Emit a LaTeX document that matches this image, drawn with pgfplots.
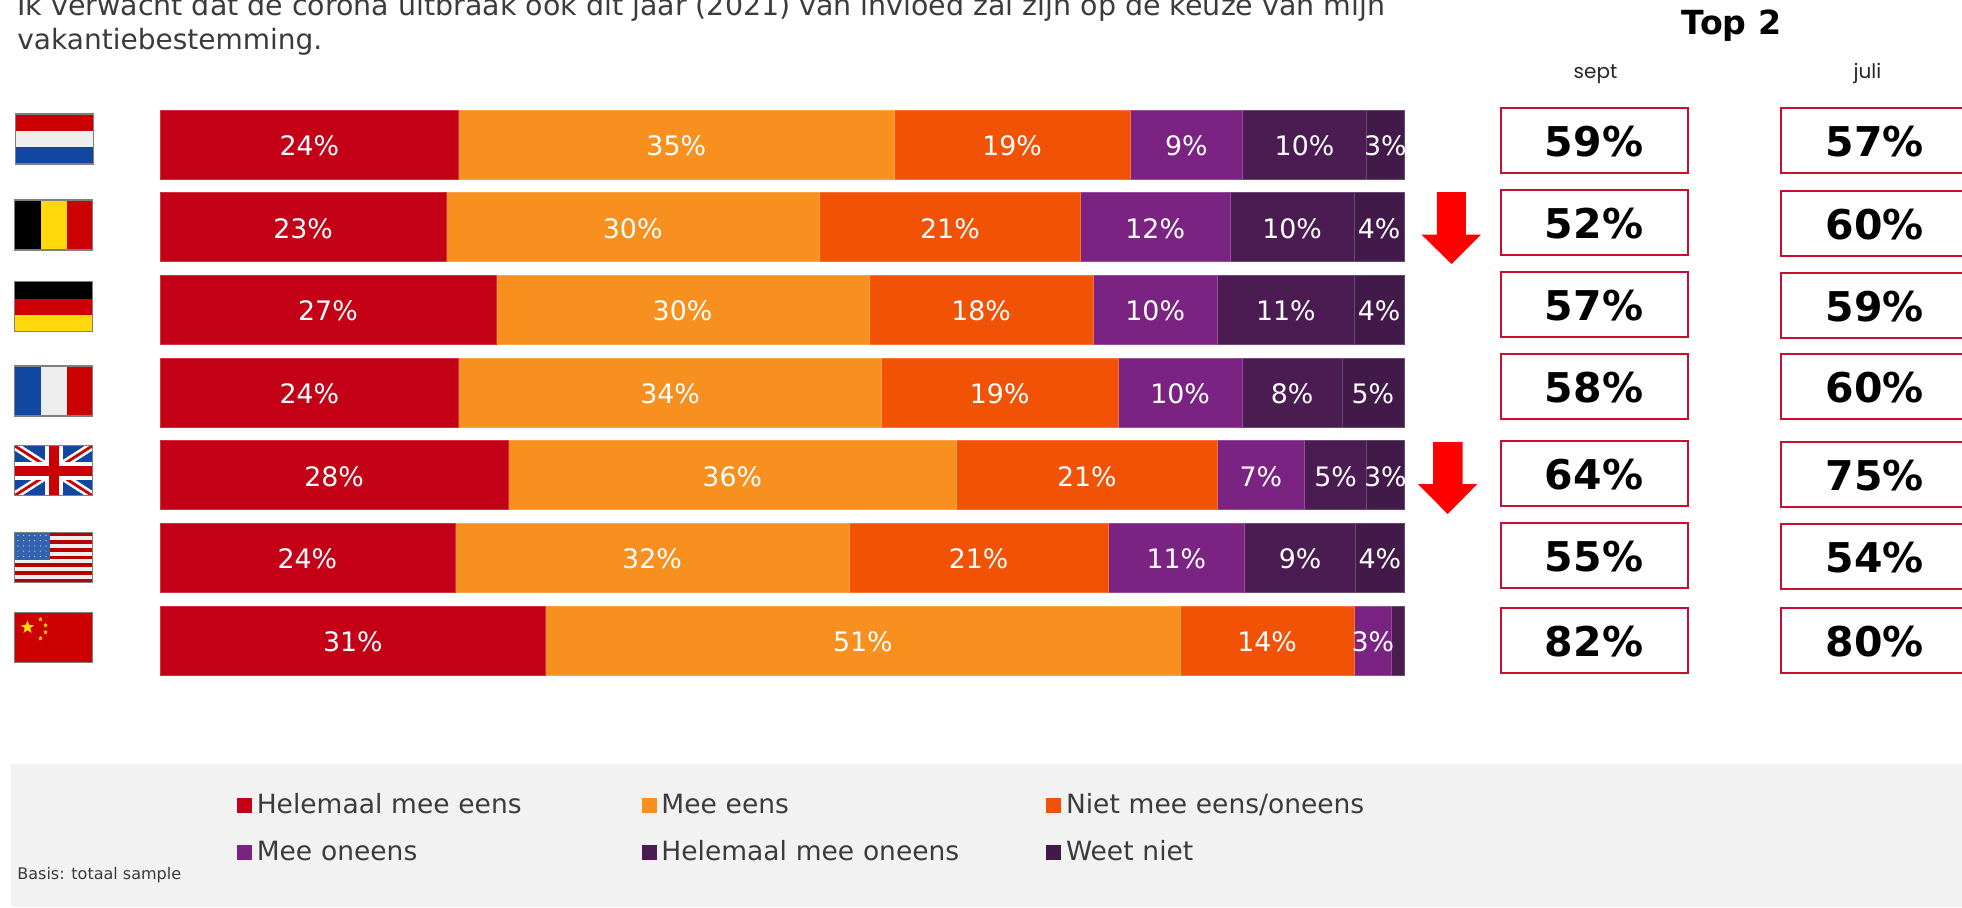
\documentclass[border=0pt]{standalone}
\usepackage{pgfplots}
\usepackage{pgfplotstable}
\usepackage{fontspec}
\pgfplotsset{compat=1.18}
\usetikzlibrary{shapes.geometric}
\setmainfont{DejaVu Sans}
\newfontfamily\gothic{Poppins}
\definecolor{c1}{HTML}{C40016}
\definecolor{c2}{HTML}{F7901E}
\definecolor{c3}{HTML}{F25206}
\definecolor{c4}{HTML}{7A2382}
\definecolor{c5}{HTML}{4A1C52}
\definecolor{c6}{HTML}{421A4A}
\definecolor{txt}{HTML}{3B3B3B}
\definecolor{panel}{HTML}{F2F2F2}
\definecolor{boxred}{HTML}{C8102E}
\definecolor{fred}{HTML}{CC0000}
\definecolor{fblue}{HTML}{0F47A1}
\definecolor{fwhite}{HTML}{EEEEEE}
\definecolor{fyellow}{HTML}{FFD90C}

\pgfplotstableread{
row val lab
1 24 24
2 23 23
3 27 27
4 24 24
5 28 28
6 23.7 24
7 31 31
}\tA
\pgfplotstableread{
row val lab
1 35 35
2 30 30
3 30 30
4 34 34
5 36 36
6 31.7 32
7 51 51
}\tB
\pgfplotstableread{
row val lab
1 19 19
2 21 21
3 18 18
4 19 19
5 21 21
6 20.8 21
7 14 14
}\tC
\pgfplotstableread{
row val lab
1 9 9
2 12 12
3 10 10
4 10 10
5 7 7
6 11 11
7 3 3
}\tD
\pgfplotstableread{
row val lab
1 10 10
2 10 10
3 11 11
4 8 8
5 5 5
6 8.9 9
7 1 0
}\tE
\pgfplotstableread{
row val lab
1 3 3
2 4 4
3 4 4
4 5 5
5 3 3
6 3.9 4
7 0 0
}\tF
\pgfplotstableread{
px py lab
1594 140 59
1594 222.5 52
1594 304.5 57
1594 386 58
1594 473.5 64
1594 555.5 55
1594 640 82
1874.5 140.5 57
1874.5 223 60
1874.5 305 59
1874.5 386.5 60
1874.5 474 75
1874.5 556 54
1874.5 640.5 80
}\tTop

\newcommand{\flag}[3]{%
  \begin{scope}[shift={(#1,#2)}]
    \begin{scope}
      \clip (0,0) rectangle (78,50);
      #3
    \end{scope}
    \draw[color=gray,line width=0.75pt] (0,0) rectangle (78,50);
  \end{scope}}

\begin{document}
\begin{tikzpicture}[x=1pt,y=1pt]
\clip (0,0) rectangle (981,453.5);
\path[use as bounding box] (0,0) rectangle (981,453.5);
\begin{scope}[x=0.5pt,y=-0.5pt,shift={(0pt,453.5pt)}]
  \fill[panel] (11,764) rectangle (1962,907);
  \node[anchor=base west,inner sep=0pt,text=txt,font=\fontsize{14.23}{17}\selectfont] at (17,16)
    {Ik verwacht dat de corona uitbraak ook dit jaar (2021) van invloed zal zijn op de keuze van mijn};
  \node[anchor=base west,inner sep=0pt,text=txt,font=\fontsize{14}{17}\selectfont] at (17,50)
    {vakantiebestemming.};
  \node[anchor=base,inner sep=0pt,font=\bfseries\fontsize{16.6}{19}\selectfont] at (1731.5,35) {Top 2};
  \node[anchor=base,inner sep=0pt,text=black!85,font=\gothic\fontsize{10}{12}\selectfont] at (1595.5,79) {sept};
  \node[anchor=base,inner sep=0pt,text=black!85,font=\gothic\fontsize{10}{12}\selectfont] at (1867.5,79) {juli};
  \node[anchor=base west,inner sep=0pt,text=txt,font=\fontsize{8}{10}\selectfont] at (17,879) {Basis: totaal sample};
  % arrows
  \fill[red] (1436.8,192) -- (1465.9,192) -- (1465.9,234.7) -- (1481,234.7) -- (1451.5,264) -- (1421.6,234.7) -- (1436.8,234.7) -- cycle;
  \fill[red] (1433,442) -- (1462.5,442) -- (1462.5,484) -- (1477.3,484) -- (1447.7,514) -- (1417.8,484) -- (1433,484) -- cycle;
  % flags
  \flag{15.5}{114}{\fill[fred] (0,0) rectangle (78,17);\fill[fwhite] (0,17) rectangle (78,33);\fill[fblue] (0,33) rectangle (78,50);}
  \flag{14.5}{200}{\fill[black] (0,0) rectangle (26,50);\fill[fyellow] (26,0) rectangle (52,50);\fill[fred] (52,0) rectangle (78,50);}
  \flag{14.5}{281.5}{\fill[black] (0,0) rectangle (78,17);\fill[fred] (0,17) rectangle (78,33);\fill[fyellow] (0,33) rectangle (78,50);}
  \flag{14.5}{366}{\fill[fblue] (0,0) rectangle (26,50);\fill[fwhite] (26,0) rectangle (52,50);\fill[fred] (52,0) rectangle (78,50);}
  \flag{14.5}{445.7}{\fill[fblue] (0,0) rectangle (78,50);
    \draw[white,line width=4pt] (0,0) -- (78,50) (0,50) -- (78,0);
    \draw[fred,line width=1.4pt] (0,0) -- (78,50) (0,50) -- (78,0);
    \fill[white] (0,16) rectangle (78,34);\fill[white] (30,0) rectangle (48,50);
    \fill[fred] (0,20) rectangle (78,30);\fill[fred] (34,0) rectangle (44,50);}
  \flag{14.5}{532.5}{\fill[fwhite] (0,0) rectangle (78,50);
    \foreach \i in {0,2,4,6,8,10,12} {\fill[fred!90!black] (0,{\i*50/13}) rectangle (78,{(\i+1)*50/13});}
    \fill[fblue!85!white] (0,0) rectangle (35,27);
    \foreach \a in {0,1,2,3,4} {\foreach \b in {0,1,2,3,4,5} {\fill[white!85!fblue] ({3.5+\b*5.6},{3+\a*5.2}) circle (0.6);}}}
  \flag{14.5}{612.3}{\fill[fred] (0,0) rectangle (78,50);
    \node[star,star points=5,star point ratio=2.4,fill=fyellow,inner sep=0pt,minimum size=7pt] at (13,15) {};
    \foreach \p/\q in {26/7,31/13,31/20,26/26} {\node[star,star points=5,star point ratio=2.4,fill=fyellow,inner sep=0pt,minimum size=2.5pt] at (\p,\q) {};}}
\end{scope}

% stacked bars
\begin{axis}[
  at={(80pt,112.55pt)},anchor=south west,
  scale only axis,width=622pt,height=289.35pt,
  xmin=0,xmax=100,ymin=0.5,ymax=7.5,y dir=reverse,
  hide axis,clip=false,
  xbar stacked,bar width=34.5pt,
  legend columns=3,
  legend image code/.code={\draw[#1,/tikz/.cd,draw=none,yshift=-3.75pt] (0pt,0pt) rectangle (7.5pt,7.5pt);},
  legend style={at={(axis description cs:0.0619,-0.1845)},anchor=north west,draw=none,fill=none,inner sep=0pt,outer sep=0pt,
    row sep=7.3pt,
    nodes={font=\fontsize{13.25}{15}\selectfont,text=txt,text width=190pt,align=left,inner sep=2.4pt,anchor=west}},
  point meta=explicit symbolic,
  nodes near coords={\ifnum\pgfplotspointmeta=0\relax\else\pgfplotspointmeta\%\fi},
  nodes near coords style={text=white,font=\fontsize{13.4}{15}\selectfont,anchor=center,yshift=-0.6pt,inner sep=0pt},
]
\addplot[fill=c1,draw=c1!80!white,line width=0.3pt] table[x=val,y=row,meta=lab] {\tA};
\addplot[fill=c2,draw=c2!80!white,line width=0.3pt] table[x=val,y=row,meta=lab] {\tB};
\addplot[fill=c3,draw=c3!80!white,line width=0.3pt] table[x=val,y=row,meta=lab] {\tC};
\addplot[fill=c4,draw=c4!80!white,line width=0.3pt] table[x=val,y=row,meta=lab] {\tD};
\addplot[fill=c5,draw=c5!80!white,line width=0.3pt] table[x=val,y=row,meta=lab] {\tE};
\addplot[fill=c6,draw=c6!80!white,line width=0.3pt] table[x=val,y=row,meta=lab] {\tF};
\legend{Helemaal mee eens,Mee eens,Niet mee eens/oneens,Mee oneens,Helemaal mee oneens,Weet niet}
\end{axis}

% Top 2 boxes
\begin{axis}[
  at={(0pt,0pt)},anchor=south west,
  scale only axis,width=981pt,height=453.5pt,
  xmin=0,xmax=1962,ymin=0,ymax=907,y dir=reverse,
  hide axis,clip=false,
  point meta=explicit symbolic,
  nodes near coords={\raisebox{-8.2pt}[0pt][0pt]{\pgfplotspointmeta\%}},
  nodes near coords style={draw=boxred,line width=1pt,text=black,anchor=center,
    minimum width=93.5pt,minimum height=32.5pt,inner sep=0pt,outer sep=0pt,
    font=\bfseries\fontsize{20.5}{24}\selectfont},
]
\addplot[only marks,mark=none] table[x=px,y=py,meta=lab] {\tTop};
\end{axis}
\end{tikzpicture}
\end{document}
